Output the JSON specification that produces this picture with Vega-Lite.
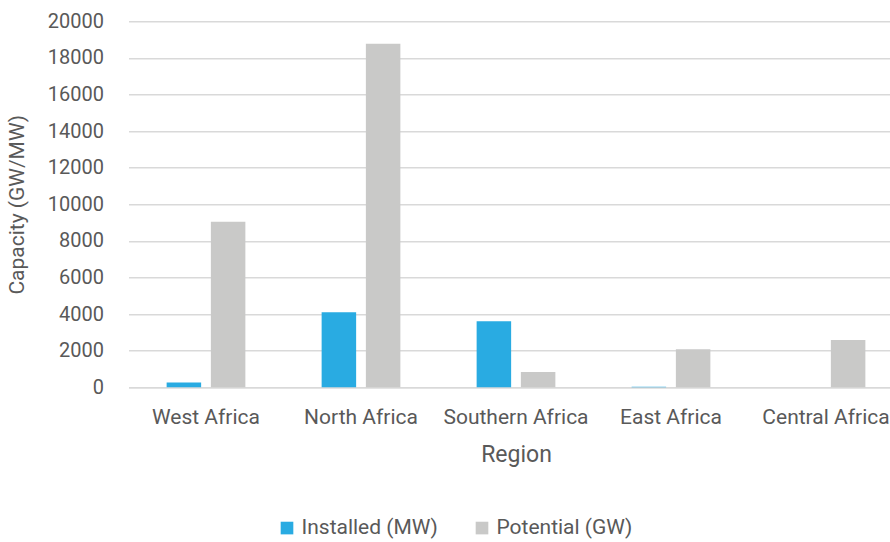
{
  "$schema": "https://vega.github.io/schema/vega-lite/v6.json",
  "autosize": {"type": "none"},
  "width": 775,
  "height": 366,
  "padding": {"left": 128.5, "top": 21.3, "right": 0, "bottom": 155},
  "background": "white",
  "config": {
    "font": "Roboto",
    "view": {"stroke": null},
    "axis": {"labelColor": "#595959", "titleColor": "#595959", "labelFont": "Roboto", "titleFont": "Roboto", "titleFontWeight": "normal"},
    "legend": {"labelColor": "#595959", "labelFont": "Roboto"}
  },
  "data": {
    "values": [
      {"region": "West Africa", "series": "Installed (MW)", "value": 260},
      {"region": "West Africa", "series": "Potential (GW)", "value": 9050},
      {"region": "North Africa", "series": "Installed (MW)", "value": 4100},
      {"region": "North Africa", "series": "Potential (GW)", "value": 18780},
      {"region": "Southern Africa", "series": "Installed (MW)", "value": 3610},
      {"region": "Southern Africa", "series": "Potential (GW)", "value": 840},
      {"region": "East Africa", "series": "Installed (MW)", "value": 30},
      {"region": "East Africa", "series": "Potential (GW)", "value": 2080},
      {"region": "Central Africa", "series": "Installed (MW)", "value": 0},
      {"region": "Central Africa", "series": "Potential (GW)", "value": 2590}
    ]
  },
  "mark": {"type": "bar"},
  "encoding": {
    "x": {
      "field": "region", "type": "nominal", "sort": null,
      "scale": {"paddingInner": 0.492, "paddingOuter": 0.246},
      "axis": {
        "title": "Region", "titleFontSize": 23, "titlePadding": 16,
        "labelAngle": 0, "labelFontSize": 21, "labelPadding": 19,
        "ticks": false, "domainColor": "#d9d9d9", "domainWidth": 1.5,
        "grid": false, "labelOverlap": false
      }
    },
    "xOffset": {
      "field": "series", "type": "nominal",
      "scale": {"paddingInner": 0.22, "paddingOuter": 0}
    },
    "y": {
      "field": "value", "type": "quantitative",
      "scale": {"domain": [0, 20000], "nice": false},
      "axis": {
        "title": "Capacity (GW/MW)", "titleFontSize": 21, "titlePadding": 20,
        "labelFontSize": 20, "labelPadding": 25, "format": "d", "labelOverlap": false,
        "values": [0,2000,4000,6000,8000,10000,12000,14000,16000,18000,20000],
        "ticks": false, "domain": false,
        "gridColor": "#d9d9d9", "gridWidth": 1.5
      }
    },
    "color": {
      "field": "series", "type": "nominal",
      "scale": {"domain": ["Installed (MW)", "Potential (GW)"], "range": ["#29abe2", "#c9c9c8"]},
      "legend": {
        "title": null, "orient": "none", "direction": "horizontal",
        "legendX": 148, "legendY": 496,
        "symbolType": "square", "symbolSize": 160, "symbolStrokeWidth": 0,
        "labelFontSize": 21, "columnPadding": 33, "labelOffset": 4
      }
    }
  }
}
